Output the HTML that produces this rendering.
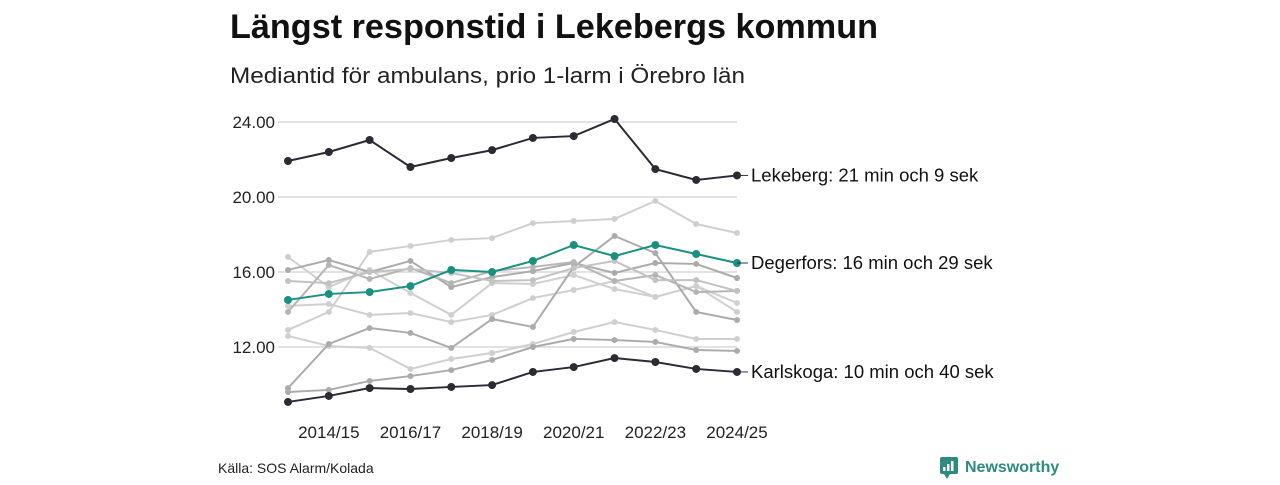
<!DOCTYPE html>
<html><head><meta charset="utf-8"><style>
body{margin:0;width:1280px;height:480px;background:#fff;font-family:"Liberation Sans",sans-serif;overflow:hidden}
</style></head><body>
<svg id="c" width="1280" height="480">
<text x="230" y="38" font-size="34" font-weight="bold" fill="#111" textLength="648" lengthAdjust="spacingAndGlyphs">Längst responstid i Lekebergs kommun</text>
<text x="230" y="83" font-size="22" fill="#222" textLength="515" lengthAdjust="spacingAndGlyphs">Mediantid för ambulans, prio 1-larm i Örebro län</text>
<text x="218" y="473" font-size="14" fill="#222">Källa: SOS Alarm/Kolada</text>
<g>
<rect x="940" y="457" width="18" height="17" rx="2" fill="#2e8b7f"/>
<path d="M944 474 L947 479 L950 474Z" fill="#2e8b7f"/>
<rect x="943" y="467" width="2.5" height="4" fill="#fff"/><rect x="947" y="464" width="2.5" height="7" fill="#fff"/><rect x="951" y="461" width="2.5" height="10" fill="#fff"/>
<text x="965" y="472" font-size="16" font-weight="bold" fill="#2e8b7f">Newsworthy</text>
</g>
<g id="grid"></g><g id="marks"></g>
</svg>
<script>
const categories=["2013/14","2014/15","2015/16","2016/17","2017/18","2018/19","2019/20","2020/21","2021/22","2022/23","2023/24","2024/25"];
const xTickLabels=["2014/15","2016/17","2018/19","2020/21","2022/23","2024/25"];
const yTicks=[12,16,20,24];
const lekeberg=[21.92,22.4,23.04,21.6,22.08,22.5,23.15,23.25,24.16,21.49,20.91,21.15];
const degerfors=[14.51,14.83,14.93,15.25,16.11,16.0,16.59,17.44,16.85,17.44,16.96,16.48];
const karlskoga=[9.07,9.39,9.81,9.76,9.87,9.97,10.67,10.93,11.41,11.2,10.83,10.67];
const greyF=[12.91,13.87,17.07,17.39,17.71,17.81,18.61,18.72,18.83,19.79,18.56,18.08];
const greyH=[9.81,12.16,13.01,12.75,11.95,13.49,13.07,16.27,17.92,17.01,13.87,13.44];
const greyI=[9.6,9.71,10.19,10.45,10.77,11.31,12.0,12.43,12.37,12.27,11.84,11.79];
const greyG=[12.59,12.05,11.95,10.83,11.36,11.68,12.16,12.8,13.33,12.91,12.43,12.43];
const greyE=[14.19,14.29,13.71,13.81,13.33,13.71,14.61,15.04,15.52,14.67,15.25,13.87];
const greyA=[16.11,16.64,16.0,16.59,15.2,15.73,16.05,16.48,15.95,16.48,16.43,15.68];
const greyB=[13.87,16.37,15.63,16.21,15.41,16.05,16.27,16.53,15.52,15.84,14.93,14.99];
const greyC=[15.52,15.41,16.0,16.16,15.95,15.52,15.57,16.21,16.59,15.57,15.57,14.99];
const greyD=[16.8,15.2,16.11,14.88,13.71,15.41,15.36,15.84,15.09,14.67,15.25,14.35];
const NS="http://www.w3.org/2000/svg";
const x=i=>288+i*(737-288)/(categories.length-1);
const y=v=>122+(24-v)*18.75;
function mk(t,a,p){const e=document.createElementNS(NS,t);for(const k in a)e.setAttribute(k,a[k]);p.appendChild(e);return e;}
const grid=document.getElementById('grid'),marks=document.getElementById('marks');
yTicks.forEach(t=>{
 const l=mk('line',{x1:278,x2:737,y1:y(t),y2:y(t),stroke:'#e2e2e6','stroke-width':2},grid);
 
 
 const tx=mk('text',{x:275,y:y(t)+6,'text-anchor':'end','font-size':17,fill:'#222'},grid);
 tx.textContent=t.toFixed(2);
 
 
});
xTickLabels.forEach(lbl=>{
 const i=categories.indexOf(lbl);
 const tx=mk('text',{x:x(i),y:438,'text-anchor':'middle','font-size':17,fill:'#222'},grid);
 tx.textContent=lbl;
 
 
});
function series(vals,col,w,r,name){
 const g=mk('g',{},marks);
 
 
 mk('polyline',{points:vals.map((v,i)=>x(i)+','+y(v)).join(' '),fill:'none',stroke:col,'stroke-width':w},g);
 vals.forEach((v,i)=>mk('circle',{cx:x(i),cy:y(v),r:r,fill:col},g));
}
const greys=[[greyF,'#cfcfcf'],[greyG,'#cfcfcf'],[greyE,'#cfcfcf'],[greyD,'#cfcfcf'],[greyH,'#ababab'],[greyI,'#ababab'],[greyA,'#ababab'],[greyB,'#b5b5b5'],[greyC,'#c2c2c2']];
greys.forEach(([s,c])=>series(s,c,2,3,'other-municipality-line'));
series(karlskoga,'#2b2a35',2,4,'karlskoga-line');
series(degerfors,'#1a9080',2,4,'degerfors-line');
series(lekeberg,'#2b2a35',2,4,'lekeberg-line');
[[lekeberg,'Lekeberg: 21 min och 9 sek'],[degerfors,'Degerfors: 16 min och 29 sek'],[karlskoga,'Karlskoga: 10 min och 40 sek']].forEach(([s,t])=>{
 const yy=y(s[s.length-1]);
 mk('line',{x1:737,x2:748,y1:yy,y2:yy,stroke:'#333','stroke-width':1},marks);
 const tx=mk('text',{x:751,y:yy+6,'font-size':18.5,fill:'#111'},marks);
 tx.textContent=t;
 
 
});
</script>
</body></html>
